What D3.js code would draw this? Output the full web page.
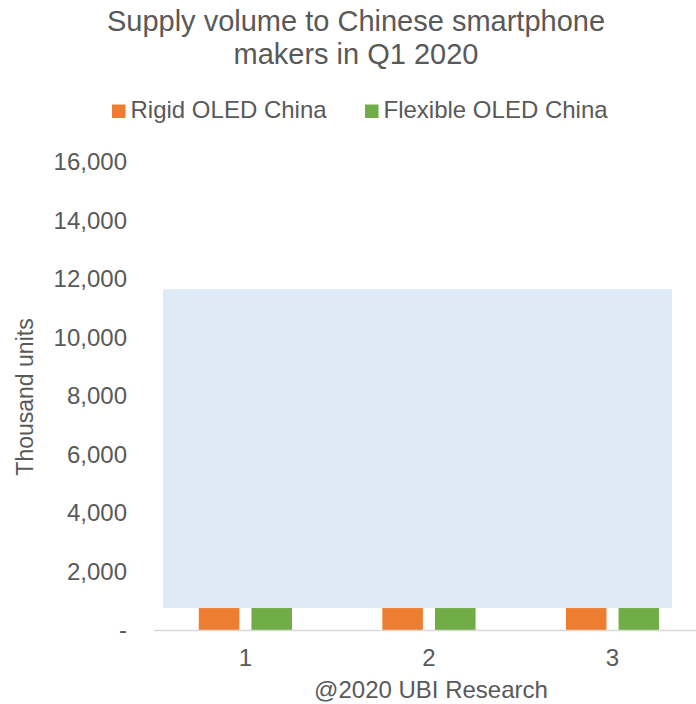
<!DOCTYPE html>
<html>
<head>
<meta charset="utf-8">
<script src="https://cdn.jsdelivr.net/npm/d3@7/dist/d3.min.js"></script>
<style>
  html, body { margin: 0; padding: 0; background: #fff; }
  svg { display: block; font-family: "Liberation Sans", Arial, sans-serif; }
</style>
</head>
<body>
<svg id="chart" width="696" height="704"></svg>
<script>
// Monthly supply volume (thousand units)
const categories = ["1", "2", "3"];
const seriesNames = ["Rigid OLED China", "Flexible OLED China"];
const rigidValues = [5200, 3400, 6100];
const flexibleValues = [4300, 2800, 5600];
const yTicks = [0, 2000, 4000, 6000, 8000, 10000, 12000, 14000, 16000];
const colors = ["#ED7D31", "#70AD47"];
// Shaded panel spanning the plot (value range)
const panelRange = [750, 11650];

const svg = d3.select("#chart");
const textColor = "#595959";
const fontFamily = "Liberation Sans, Arial, sans-serif";

const plot = { left: 153.6, right: 704.3, top: 162, bottom: 630 };

const x0 = d3.scaleBand().domain(categories).range([plot.left, plot.right]).paddingInner(0).paddingOuter(0);
const x1 = d3.scaleBand().domain(seriesNames).range([-46.6, 46.6]).paddingInner(0.23).paddingOuter(0);
const y = d3.scaleLinear().domain([0, 16000]).range([plot.bottom, plot.top]);

const rows = categories.map((c, i) => ({ cat: c, values: [rigidValues[i], flexibleValues[i]] }));

// Title
const title = svg.append("text").attr("text-anchor", "middle").attr("fill", textColor).style("font-size", "29px");
title.append("tspan").attr("x", 356).attr("y", 31).text("Supply volume to Chinese smartphone");
title.append("tspan").attr("x", 356).attr("y", 64).text("makers in Q1 2020");

// Legend
const legendItems = [{ x: 112, name: seriesNames[0], color: colors[0] }, { x: 365, name: seriesNames[1], color: colors[1] }];
const lg = svg.append("g").selectAll("g").data(legendItems).join("g").attr("transform", d => `translate(${d.x},104.5)`);
lg.append("rect").attr("width", 13.5).attr("height", 13.5).attr("fill", d => d.color);
lg.append("text").attr("x", 18.5).attr("y", 13.8).attr("fill", textColor).style("font-size", "24px").text(d => d.name);

// Y axis (labels only)
const yAxis = d3.axisLeft(y).tickValues(yTicks).tickSize(0).tickPadding(0)
  .tickFormat(v => v === 0 ? "-  " : d3.format(",")(v));
const yg = svg.append("g").attr("transform", "translate(127,0)").call(yAxis);
yg.select(".domain").remove();
yg.selectAll("text").attr("fill", textColor).style("font-size", "24px").style("font-family", fontFamily);

// Bars
svg.append("g").selectAll("g").data(rows).join("g")
  .attr("transform", d => `translate(${x0(d.cat) + x0.bandwidth() / 2},0)`)
  .selectAll("rect").data(d => d.values.map((v, k) => ({ v, k })))
  .join("rect")
  .attr("x", d => x1(seriesNames[d.k]))
  .attr("width", x1.bandwidth())
  .attr("y", d => y(d.v))
  .attr("height", d => y(0) - y(d.v))
  .attr("fill", d => colors[d.k]);

// Shaded panel
svg.append("rect")
  .attr("x", plot.left + 9.4)
  .attr("width", 509)
  .attr("y", y(panelRange[1]))
  .attr("height", y(panelRange[0]) - y(panelRange[1]))
  .attr("fill", "#DEEAF6");

// X axis
const xAxis = d3.axisBottom(x0).tickSize(0).tickPadding(19);
const xg = svg.append("g").attr("transform", `translate(0,${plot.bottom})`).call(xAxis);
xg.select(".domain").attr("stroke", "#D9D9D9").attr("stroke-width", 1.3);
xg.selectAll("text").attr("fill", textColor).style("font-size", "24px").style("font-family", fontFamily);

// Axis titles
svg.append("text").attr("transform", "translate(33,397) rotate(-90)").attr("text-anchor", "middle")
  .attr("fill", textColor).style("font-size", "23px").text("Thousand units");
svg.append("text").attr("x", 431).attr("y", 698).attr("text-anchor", "middle")
  .attr("fill", textColor).style("font-size", "24px").text("@2020 UBI Research");
</script>
</body>
</html>
